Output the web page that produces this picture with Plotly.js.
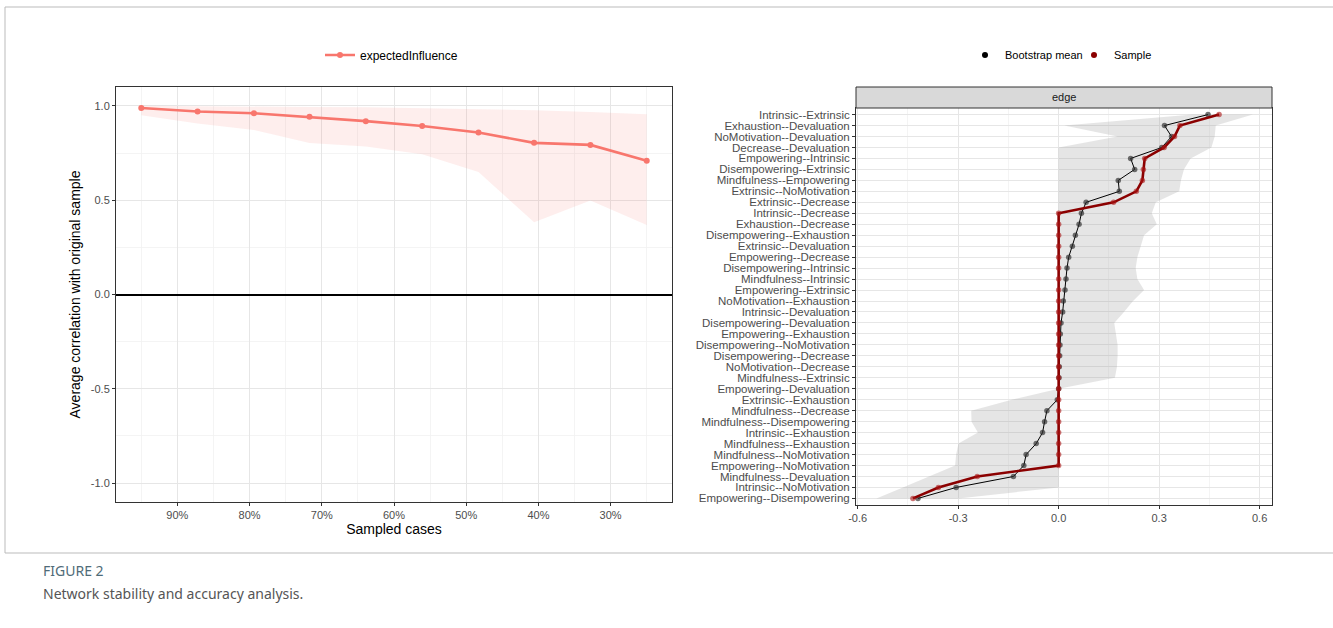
<!DOCTYPE html>
<html>
<head>
<meta charset="utf-8">
<script src="https://cdn.plot.ly/plotly-3.0.1.min.js"></script>
<style>
html,body{margin:0;padding:0;background:#fff;}
#chart{width:1333px;height:628px;}
</style>
</head>
<body>
<div id="chart"></div>
<script>
// ---------- Left panel: case-dropping stability ----------
const sampledProp = [0.95, 0.872, 0.794, 0.717, 0.639, 0.561, 0.483, 0.406, 0.328, 0.25];
const eiMean  = [0.989, 0.970, 0.961, 0.942, 0.919, 0.893, 0.859, 0.804, 0.793, 0.709];
const eiLower = [0.950, 0.906, 0.872, 0.803, 0.785, 0.743, 0.649, 0.383, 0.498, 0.369];
const eiUpper = [1.000, 0.999, 0.997, 0.994, 0.992, 0.988, 0.983, 0.977, 0.968, 0.955];
const leftXTickVals = [0.9, 0.8, 0.7, 0.6, 0.5, 0.4, 0.3];
const leftXTickText = ['90%', '80%', '70%', '60%', '50%', '40%', '30%'];
const leftYTickVals = [-1, -0.5, 0, 0.5, 1];
const leftYTickText = ['-1.0', '-0.5', '0.0', '0.5', '1.0'];

// ---------- Right panel: edge accuracy ----------
const edges = [
  'Intrinsic--Extrinsic', 'Exhaustion--Devaluation', 'NoMotivation--Devaluation', 'Decrease--Devaluation',
  'Empowering--Intrinsic', 'Disempowering--Extrinsic', 'Mindfulness--Empowering', 'Extrinsic--NoMotivation',
  'Extrinsic--Decrease', 'Intrinsic--Decrease', 'Exhaustion--Decrease', 'Disempowering--Exhaustion',
  'Extrinsic--Devaluation', 'Empowering--Decrease', 'Disempowering--Intrinsic', 'Mindfulness--Intrinsic',
  'Empowering--Extrinsic', 'NoMotivation--Exhaustion', 'Intrinsic--Devaluation', 'Disempowering--Devaluation',
  'Empowering--Exhaustion', 'Disempowering--NoMotivation', 'Disempowering--Decrease', 'NoMotivation--Decrease',
  'Mindfulness--Extrinsic', 'Empowering--Devaluation', 'Extrinsic--Exhaustion', 'Mindfulness--Decrease',
  'Mindfulness--Disempowering', 'Intrinsic--Exhaustion', 'Mindfulness--Exhaustion', 'Mindfulness--NoMotivation',
  'Empowering--NoMotivation', 'Mindfulness--Devaluation', 'Intrinsic--NoMotivation', 'Empowering--Disempowering'
];
const bootMean = [0.446, 0.316, 0.337, 0.308, 0.215, 0.227, 0.178, 0.181, 0.082, 0.068, 0.061, 0.050,
  0.041, 0.030, 0.025, 0.022, 0.019, 0.014, 0.012, 0.007, 0.005, 0.004, 0.003, 0.002,
  0.001, 0.000, -0.004, -0.035, -0.042, -0.048, -0.067, -0.097, -0.104, -0.135, -0.306, -0.420];
const sampleVal = [0.479, 0.362, 0.346, 0.315, 0.257, 0.253, 0.250, 0.232, 0.164, 0, 0, 0,
  0, 0, 0, 0, 0, 0, 0, 0, 0, 0, 0, 0,
  0, 0, 0, 0, 0, 0, 0, 0, 0, -0.243, -0.359, -0.435];
const ciLower = [0.400, 0.017, 0.176, 0, 0, 0, 0, 0, 0, 0, 0, 0,
  0, 0, 0, 0, 0, 0, 0, 0, 0, 0, 0, 0,
  0, 0, -0.140, -0.261, -0.260, -0.241, -0.299, -0.306, -0.309, -0.388, -0.465, -0.544];
const ciUpper = [0.580, 0.469, 0.466, 0.456, 0.394, 0.374, 0.365, 0.360, 0.290, 0.278, 0.293, 0.255,
  0.245, 0.235, 0.230, 0.235, 0.255, 0.222, 0.195, 0.166, 0.171, 0.176, 0.176, 0.174,
  0.168, 0, 0, 0, 0, 0, 0, 0, 0, 0, 0, -0.300];
const rightXTickVals = [-0.6, -0.3, 0, 0.3, 0.6];
const rightXTickText = ['-0.6', '-0.3', '0.0', '0.3', '0.6'];

// ---------- geometry helpers (pixel -> paper) ----------
const W = 1333, H = 628;
const px = v => v / W;
const py = v => 1 - v / H;

const FONT = 'Liberation Sans, Arial, Helvetica, sans-serif';
const GRID = '#E6E6E6';
const MINOR = '#F1F1F1';
const BORDER = '#333333';
const TICKC = '#4D4D4D';
const SALMON = '#F8766D';
const DARKRED = '#8B0000';

const rev = a => a.slice().reverse();

const traces = [
  {
    x: sampledProp.concat(rev(sampledProp)),
    y: eiUpper.concat(rev(eiLower)),
    xaxis: 'x', yaxis: 'y',
    type: 'scatter', mode: 'lines', fill: 'toself',
    fillcolor: 'rgba(248,118,109,0.12)', line: {width: 0},
    showlegend: false, hoverinfo: 'skip'
  },
  {
    x: sampledProp, y: eiMean, xaxis: 'x', yaxis: 'y',
    type: 'scatter', mode: 'lines+markers', name: 'expectedInfluence',
    line: {color: SALMON, width: 2.6}, marker: {color: SALMON, size: 6},
    legend: 'legend'
  },
  {
    x: ciUpper.concat(rev(ciLower)),
    y: edges.concat(rev(edges)),
    xaxis: 'x2', yaxis: 'y2',
    type: 'scatter', mode: 'lines', fill: 'toself',
    fillcolor: 'rgba(150,150,150,0.25)', line: {width: 0},
    showlegend: false, hoverinfo: 'skip'
  },
  {
    x: bootMean, y: edges, xaxis: 'x2', yaxis: 'y2',
    type: 'scatter', mode: 'lines+markers', name: 'Bootstrap mean',
    line: {color: '#000000', width: 1},
    marker: {color: 'rgba(40,40,40,0.65)', size: 5.5},
    showlegend: false
  },
  {
    x: sampleVal, y: edges, xaxis: 'x2', yaxis: 'y2',
    type: 'scatter', mode: 'lines+markers', name: 'Sample',
    line: {color: DARKRED, width: 2.6},
    marker: {color: 'rgba(170,20,20,0.6)', size: 5.5},
    showlegend: false
  },
  {
    x: [null], y: [null], xaxis: 'x2', yaxis: 'y2',
    type: 'scatter', mode: 'markers', name: 'Bootstrap mean',
    marker: {color: '#000000', size: 6}, legend: 'legend2'
  },
  {
    x: [null], y: [null], xaxis: 'x2', yaxis: 'y2',
    type: 'scatter', mode: 'markers', name: 'Sample',
    marker: {color: DARKRED, size: 6}, legend: 'legend2'
  }
];

const commonAxis = {
  showline: true, mirror: true, linecolor: BORDER, linewidth: 1,
  ticks: 'outside', ticklen: 3, tickcolor: BORDER, tickwidth: 1,
  tickfont: {family: FONT, size: 11, color: TICKC},
  gridcolor: GRID, gridwidth: 1, zeroline: false, automargin: false,
  fixedrange: true
};

const layout = {
  width: W, height: H,
  margin: {l: 0, r: 0, t: 0, b: 0},
  paper_bgcolor: '#ffffff', plot_bgcolor: '#ffffff',
  font: {family: FONT, color: '#000'},
  xaxis: Object.assign({}, commonAxis, {
    domain: [px(116), px(672)], anchor: 'y',
    range: [0.985, 0.215],
    tickmode: 'array', tickvals: leftXTickVals, ticktext: leftXTickText,
    minor: {tickmode: 'linear', tick0: 0, dtick: 0.05, showgrid: true, gridcolor: MINOR, gridwidth: 0.8, ticks: ''},
    title: {text: 'Sampled cases', font: {family: FONT, size: 14, color: '#000'}, standoff: 3}
  }),
  yaxis: Object.assign({}, commonAxis, {
    domain: [py(502), py(87)], anchor: 'x',
    range: [-1.1, 1.1],
    tickmode: 'array', tickvals: leftYTickVals, ticktext: leftYTickText,
    minor: {tickmode: 'linear', tick0: 0, dtick: 0.25, showgrid: true, gridcolor: MINOR, gridwidth: 0.8, ticks: ''},
    zeroline: true, zerolinecolor: '#000000', zerolinewidth: 2,
    title: {text: 'Average correlation with original sample', font: {family: FONT, size: 14, color: '#000'}, standoff: 6}
  }),
  xaxis2: Object.assign({}, commonAxis, {
    domain: [px(856), px(1272)], anchor: 'y2',
    range: [-0.605, 0.637],
    tickmode: 'array', tickvals: rightXTickVals, ticktext: rightXTickText,
    minor: {tickmode: 'linear', tick0: 0, dtick: 0.15, showgrid: true, gridcolor: MINOR, gridwidth: 0.8, ticks: ''}
  }),
  yaxis2: Object.assign({}, commonAxis, {
    domain: [py(505), py(108)], anchor: 'x2',
    type: 'category', categoryorder: 'array', categoryarray: edges,
    tickmode: 'array', tickvals: edges, ticktext: edges,
    range: [edges.length - 0.4, -0.6],
    tickfont: {family: FONT, size: 11.5, color: TICKC}
  }),
  legend: {
    orientation: 'h', x: px(320), y: py(55), xanchor: 'left', yanchor: 'middle',
    font: {family: FONT, size: 12, color: '#000'}, bgcolor: 'rgba(0,0,0,0)',
    itemwidth: 30
  },
  legend2: {
    orientation: 'h', x: px(965), y: py(55), xanchor: 'left', yanchor: 'middle',
    font: {family: FONT, size: 11, color: '#000'}, bgcolor: 'rgba(0,0,0,0)',
    itemwidth: 30, entrywidth: 64, entrywidthmode: 'pixels'
  },
  shapes: [
    {type: 'rect', xref: 'paper', yref: 'paper', x0: px(856), x1: px(1272), y0: py(108), y1: py(87),
     fillcolor: '#D9D9D9', line: {color: BORDER, width: 1}, layer: 'above'},
    {type: 'line', xref: 'paper', yref: 'paper', x0: px(5), x1: 1, y0: py(7), y1: py(7), line: {color: '#BBBBBB', width: 1}},
    {type: 'line', xref: 'paper', yref: 'paper', x0: px(5), x1: px(5), y0: py(7), y1: py(553), line: {color: '#BBBBBB', width: 1}},
    {type: 'line', xref: 'paper', yref: 'paper', x0: px(5), x1: 1, y0: py(553), y1: py(553), line: {color: '#BBBBBB', width: 1}}
  ],
  annotations: [
    {text: 'edge', xref: 'paper', yref: 'paper', x: px(1064), y: py(97.5), showarrow: false,
     font: {family: FONT, size: 11, color: '#1A1A1A'}, xanchor: 'center', yanchor: 'middle'},
    {text: 'FIGURE 2', xref: 'paper', yref: 'paper', x: px(41), y: py(570), showarrow: false,
     font: {family: 'Noto Sans, Open Sans, sans-serif', size: 14, color: '#4F6B78'}, xanchor: 'left', yanchor: 'middle'},
    {text: 'Network stability and accuracy analysis.', xref: 'paper', yref: 'paper', x: px(41), y: py(593), showarrow: false,
     font: {family: 'Noto Sans, Open Sans, sans-serif', size: 14, color: '#555555'}, xanchor: 'left', yanchor: 'middle'}
  ]
};

Plotly.newPlot('chart', traces, layout, {staticPlot: true, displayModeBar: false});
</script>
</body>
</html>
